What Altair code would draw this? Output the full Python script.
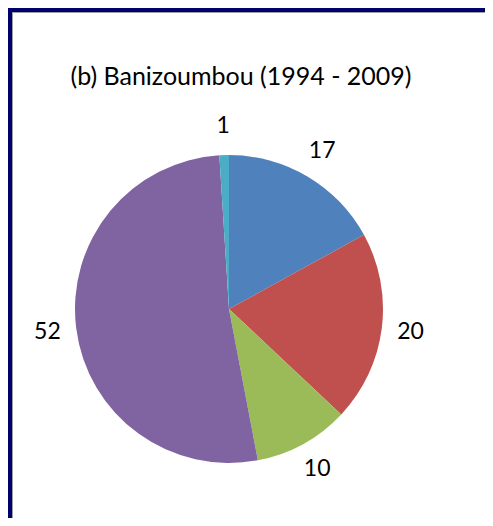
import altair as alt
import pandas as pd

slices = ["s1", "s2", "s3", "s4", "s5"]
values = [17, 20, 10, 52, 1]
colors = ["#4F81BD", "#C0504D", "#9BBB59", "#8064A2", "#4BACC6"]
title_text = "(b) Banizoumbou (1994 - 2009)"

df = pd.DataFrame({"slice": slices, "value": values, "order": list(range(len(values)))})

W, H = 473, 506
cx, cy = 217, 297
one = pd.DataFrame({"a": [0]})

base = alt.Chart(df).encode(
    theta=alt.Theta("value:Q", stack=True),
    order=alt.Order("order:Q"),
)

pie = base.mark_arc(outerRadius=154).encode(
    color=alt.Color("slice:N", scale=alt.Scale(domain=slices, range=colors), legend=None),
    x=alt.value(cx), y=alt.value(cy),
)

labels = base.mark_text(radius=183, fontSize=23, font="Lato", color="black").encode(
    text="value:Q", x=alt.value(cx), y=alt.value(cy),
)

title = alt.Chart(pd.DataFrame({"t": [title_text]})).mark_text(
    fontSize=25, font="Lato", color="black"
).encode(text="t:N", x=alt.value(229), y=alt.value(65))

navy_left = alt.Chart(one).mark_rect(color="#00006E").encode(
    x=alt.value(-4), x2=alt.value(0), y=alt.value(-4), y2=alt.value(H)
)
navy_top = alt.Chart(one).mark_rect(color="#00006E").encode(
    x=alt.value(-4), x2=alt.value(W), y=alt.value(-4), y2=alt.value(0)
)
edge_left = alt.Chart(one).mark_rule(color="#A0A0A0", strokeWidth=1).encode(
    x=alt.value(0.5), y=alt.value(0), y2=alt.value(H)
)
edge_top = alt.Chart(one).mark_rule(color="#A0A0A0", strokeWidth=1).encode(
    y=alt.value(0.5), x=alt.value(0), x2=alt.value(W)
)

chart = alt.layer(navy_left, navy_top, pie, labels, title, edge_left, edge_top).properties(
    width=W, height=H,
    background="white",
    padding={"left": 4, "top": 4, "right": 0, "bottom": 0},
    autosize=alt.AutoSizeParams(type="none"),
).configure_view(fill="white", strokeWidth=0)

chart.save("out.html", embed_options={"renderer": "svg", "actions": False})
